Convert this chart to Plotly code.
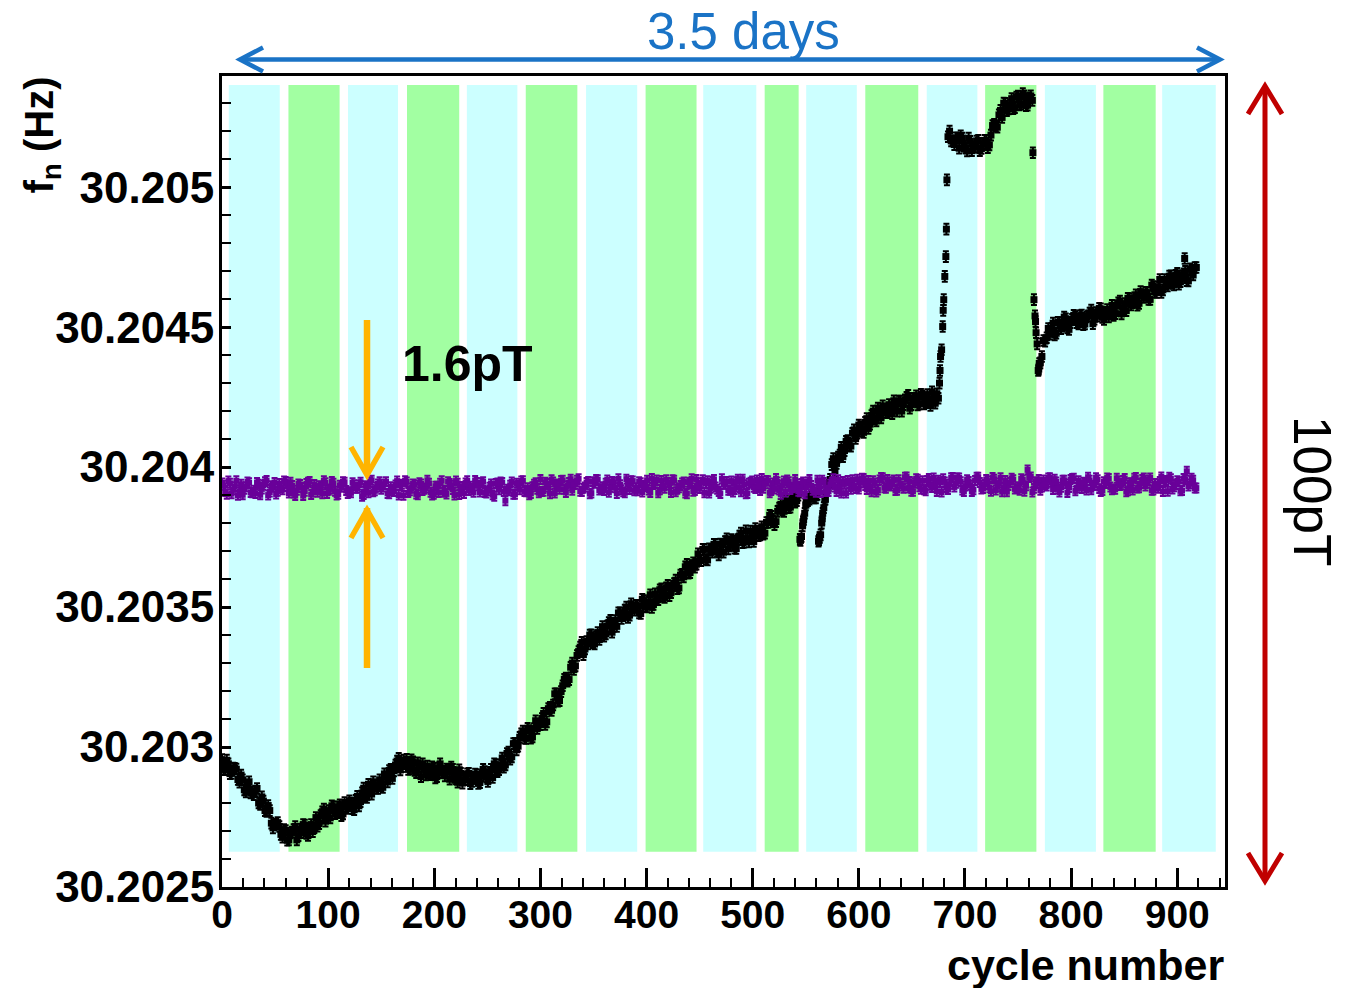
import plotly.graph_objects as go

# ---------------- data ----------------
F_BASE = 30.2          # Hz ; series values below are micro-Hz above this base
UHZ = 1e-6

cycles = list(range(0, 919, 3))                    # cycles 0, 3, ... 918
cycles_b = [c + 1.5 for c in range(0, 916, 3)]     # cycles 1.5, 4.5, ... 916.5

black_uhz = [
    2955, 2920, 2940, 2906, 2924, 2884, 2900, 2847, 2859, 2836,
    2830, 2852, 2795, 2807, 2770, 2773, 2711, 2724, 2716, 2678,
    2702, 2668, 2696, 2716, 2683, 2694, 2721, 2684, 2723, 2712,
    2717, 2755, 2778, 2756, 2747, 2786, 2769, 2794, 2761, 2787,
    2808, 2780, 2810, 2790, 2836, 2826, 2867, 2832, 2861, 2852,
    2862, 2904, 2875, 2920, 2915, 2950, 2918, 2953, 2956, 2922,
    2947, 2908, 2928, 2940, 2900, 2906, 2929, 2890, 2926, 2908,
    2897, 2920, 2928, 2891, 2874, 2906, 2883, 2904, 2869, 2893,
    2902, 2873, 2920, 2893, 2909, 2891, 2937, 2919, 2961, 2936,
    2982, 2965, 3013, 3003, 3047, 3032, 3067, 3032, 3066, 3066,
    3080, 3120, 3090, 3142, 3150, 3190, 3166, 3219, 3246, 3241,
    3300, 3290, 3341, 3374, 3350, 3368, 3401, 3368, 3409, 3398,
    3396, 3432, 3453, 3431, 3431, 3479, 3469, 3500, 3471, 3497,
    3506, 3479, 3528, 3501, 3518, 3499, 3547, 3526, 3565, 3534,
    3578, 3551, 3584, 3566, 3614, 3608, 3653, 3623, 3658, 3653,
    3666, 3706, 3670, 3708, 3696, 3724, 3686, 3723, 3734, 3708,
    3741, 3710, 3741, 3764, 3732, 3744, 3771, 3734, 3771, 3758,
    3760, 3802, 3828, 3806, 3805, 3854, 3847, 3880, 3855, 3887,
    3875, 3900, 3752, 3835, 3880, 3897, 3890, 3902, 3758, 3855,
    3932, 3956, 4030, 4013, 4043, 4037, 4092, 4079, 4121, 4102,
    4150, 4127, 4160, 4138, 4184, 4172, 4211, 4176, 4204, 4194,
    4200, 4237, 4200, 4236, 4223, 4249, 4210, 4246, 4255, 4226,
    4253, 4230, 4241, 4269, 4228, 4246, 4419, 4681, 5180, 5165,
    5152, 5175, 5183, 5146, 5129, 5164, 5143, 5165, 5130, 5155,
    5167, 5151, 5220, 5218, 5258, 5249, 5299, 5279, 5316, 5284,
    5325, 5297, 5326, 5293, 5326, 4598, 4440, 4372, 4452, 4462,
    4475, 4514, 4478, 4515, 4503, 4530, 4492, 4528, 4538, 4511,
    4543, 4511, 4540, 4561, 4528, 4539, 4565, 4527, 4563, 4548,
    4542, 4575, 4593, 4566, 4559, 4601, 4587, 4615, 4585, 4613,
    4624, 4599, 4650, 4625, 4643, 4624, 4670, 4647, 4683, 4651,
    4692, 4662, 4690, 4666, 4708, 4686, 4713,
]

black_uhz_b = [
    2921, 2953, 2905, 2925, 2921, 2874, 2883, 2840, 2876, 2841,
    2843, 2800, 2822, 2773, 2791, 2728, 2723, 2730, 2688, 2705,
    2667, 2693, 2705, 2668, 2707, 2723, 2691, 2710, 2698, 2748,
    2726, 2769, 2735, 2773, 2790, 2762, 2786, 2755, 2802, 2781,
    2800, 2776, 2824, 2805, 2853, 2820, 2844, 2876, 2853, 2883,
    2856, 2893, 2916, 2888, 2936, 2960, 2930, 2943, 2920, 2954,
    2916, 2944, 2894, 2920, 2932, 2901, 2924, 2894, 2940, 2913,
    2921, 2885, 2920, 2886, 2919, 2871, 2883, 2906, 2877, 2903,
    2870, 2898, 2912, 2877, 2920, 2940, 2912, 2936, 2928, 2977,
    2957, 3012, 2990, 3035, 3057, 3031, 3059, 3036, 3094, 3081,
    3102, 3081, 3137, 3131, 3190, 3164, 3198, 3242, 3235, 3285,
    3277, 3327, 3357, 3330, 3377, 3400, 3373, 3395, 3384, 3430,
    3404, 3445, 3410, 3452, 3479, 3459, 3489, 3463, 3512, 3489,
    3504, 3477, 3523, 3500, 3544, 3509, 3532, 3562, 3539, 3569,
    3541, 3575, 3596, 3568, 3617, 3644, 3621, 3648, 3642, 3690,
    3666, 3706, 3668, 3704, 3724, 3699, 3725, 3696, 3744, 3721,
    3736, 3709, 3754, 3730, 3772, 3733, 3752, 3780, 3755, 3787,
    3764, 3802, 3824, 3794, 3842, 3867, 3842, 3866, 3857, 3902,
    3880, 3742, 3805, 3875, 3885, 3905, 3890, 3740, 3815, 3885,
    3934, 4009, 3987, 4036, 4071, 4059, 4095, 4075, 4133, 4121,
    4144, 4124, 4173, 4153, 4200, 4165, 4188, 4219, 4195, 4223,
    4191, 4222, 4236, 4200, 4240, 4256, 4223, 4239, 4222, 4260,
    4226, 4259, 4220, 4246, 4262, 4345, 4560, 4850, 5200, 5165,
    5176, 5139, 5175, 5140, 5175, 5130, 5144, 5167, 5138, 5167,
    5141, 5186, 5224, 5214, 5274, 5300, 5273, 5293, 5280, 5322,
    5294, 5334, 5291, 5319, 5310, 4520, 4350, 4395, 4450, 4495,
    4496, 4472, 4517, 4494, 4536, 4497, 4516, 4542, 4516, 4541,
    4509, 4536, 4550, 4512, 4552, 4567, 4535, 4551, 4536, 4578,
    4548, 4587, 4547, 4584, 4603, 4579, 4605, 4578, 4627, 4606,
    4623, 4599, 4645, 4624, 4670, 4633, 4654, 4682, 4656, 4685,
    4653, 4684, 4699, 4665, 4703, 4713,
]

# extra black points in the fast transients
black_extra_cycles = [545, 547, 548, 550, 562, 563, 565, 566, 568,
                      676, 677, 679, 680, 682, 683, 764, 766, 767, 769, 770, 907]
black_extra_uhz = [3738, 3790, 3812, 3865, 3735, 3748, 3800, 3835, 3885,
                   4300, 4395, 4502, 4598, 4752, 5026, 5123, 4540, 4480, 4345, 4370, 4745]

purple_uhz = [
    3943, 3913, 3950, 3905, 3930, 3899, 3939, 3921, 3947, 3909,
    3917, 3945, 3901, 3936, 3952, 3911, 3928, 3904, 3941, 3919,
    3949, 3907, 3934, 3898, 3940, 3927, 3914, 3946, 3902, 3938,
    3910, 3932, 3951, 3906, 3922, 3942, 3900, 3935, 3948, 3916,
    3912, 3944, 3924, 3936, 3896, 3933, 3908, 3953, 3915, 3940,
    3921, 3939, 3906, 3930, 3913, 3950, 3934, 3899, 3947, 3915,
    3940, 3904, 3944, 3916, 3925, 3942, 3900, 3932, 3909, 3951,
    3916, 3948, 3935, 3900, 3942, 3922, 3906, 3951, 3932, 3910,
    3945, 3911, 3948, 3907, 3928, 3901, 3941, 3919, 3945, 3880,
    3915, 3947, 3903, 3934, 3950, 3913, 3926, 3906, 3939, 3921,
    3956, 3914, 3941, 3905, 3947, 3934, 3921, 3953, 3909, 3945,
    3917, 3939, 3958, 3913, 3929, 3949, 3907, 3942, 3955, 3923,
    3916, 3954, 3928, 3946, 3906, 3937, 3912, 3957, 3920, 3950,
    3926, 3948, 3911, 3935, 3918, 3959, 3943, 3908, 3952, 3924,
    3945, 3909, 3953, 3921, 3934, 3947, 3905, 3941, 3914, 3956,
    3923, 3955, 3942, 3907, 3949, 3929, 3913, 3958, 3939, 3917,
    3950, 3920, 3957, 3912, 3937, 3906, 3946, 3928, 3954, 3916,
    3924, 3952, 3908, 3943, 3959, 3918, 3935, 3911, 3948, 3926,
    3956, 3914, 3941, 3905, 3947, 3934, 3921, 3953, 3909, 3945,
    3917, 3939, 3958, 3913, 3929, 3949, 3907, 3942, 3955, 3923,
    3922, 3960, 3934, 3952, 3912, 3943, 3918, 3963, 3926, 3956,
    3932, 3954, 3917, 3941, 3924, 3965, 3949, 3914, 3958, 3930,
    3951, 3915, 3959, 3927, 3940, 3953, 3911, 3947, 3920, 3962,
    3929, 3961, 3948, 3913, 3955, 3935, 3919, 3964, 3945, 3923,
    3956, 3926, 3963, 3918, 3943, 3912, 3952, 3934, 3960, 3922,
    3930, 3958, 3914, 3990, 3965, 3924, 3941, 3917, 3954, 3932,
    3962, 3920, 3947, 3911, 3953, 3940, 3927, 3959, 3915, 3951,
    3923, 3945, 3964, 3919, 3935, 3955, 3913, 3948, 3961, 3929,
    3922, 3960, 3934, 3952, 3912, 3943, 3918, 3963, 3926, 3956,
    3932, 3954, 3917, 3941, 3924, 3965, 3949, 3914, 3958, 3930,
    3951, 3915, 3959, 3985, 3940, 3953, 3925,
]

purple_uhz_b = [
    3935, 3903, 3942, 3919, 3951, 3912, 3901, 3930, 3944, 3908,
    3906, 3939, 3922, 3948, 3900, 3933, 3945, 3914, 3926, 3950,
    3931, 3946, 3907, 3917, 3938, 3898, 3941, 3949, 3911, 3923,
    3933, 3905, 3944, 3917, 3949, 3914, 3903, 3928, 3946, 3906,
    3908, 3937, 3924, 3946, 3902, 3931, 3947, 3912, 3928, 3948,
    3929, 3948, 3905, 3919, 3936, 3900, 3939, 3951, 3909, 3925,
    3937, 3901, 3940, 3921, 3953, 3910, 3903, 3932, 3942, 3910,
    3904, 3941, 3920, 3950, 3902, 3931, 3943, 3916, 3924, 3952,
    3933, 3944, 3909, 3915, 3940, 3896, 3943, 3947, 3913, 3921,
    3935, 3903, 3942, 3919, 3951, 3912, 3901, 3930, 3944, 3908,
    3913, 3946, 3929, 3955, 3907, 3940, 3952, 3921, 3933, 3957,
    3938, 3953, 3914, 3924, 3945, 3905, 3948, 3956, 3918, 3930,
    3942, 3910, 3949, 3926, 3958, 3919, 3908, 3937, 3951, 3915,
    3915, 3944, 3931, 3953, 3909, 3938, 3954, 3919, 3935, 3955,
    3936, 3955, 3912, 3926, 3943, 3907, 3946, 3958, 3916, 3932,
    3944, 3908, 3951, 3924, 3956, 3921, 3906, 3939, 3949, 3917,
    3911, 3948, 3927, 3957, 3905, 3942, 3950, 3923, 3931, 3959,
    3940, 3951, 3916, 3922, 3947, 3903, 3950, 3954, 3920, 3928,
    3940, 3912, 3947, 3928, 3956, 3917, 3910, 3935, 3953, 3913,
    3913, 3946, 3929, 3955, 3907, 3940, 3952, 3921, 3933, 3957,
    3944, 3959, 3920, 3930, 3951, 3911, 3954, 3962, 3924, 3936,
    3948, 3916, 3955, 3932, 3964, 3925, 3914, 3943, 3957, 3921,
    3919, 3952, 3935, 3961, 3913, 3946, 3958, 3927, 3939, 3963,
    3942, 3961, 3918, 3932, 3949, 3913, 3952, 3964, 3922, 3938,
    3950, 3914, 3957, 3930, 3962, 3927, 3912, 3945, 3955, 3923,
    3917, 3954, 3933, 3963, 3911, 3948, 3956, 3929, 3937, 3961,
    3946, 3957, 3922, 3928, 3953, 3909, 3956, 3960, 3926, 3934,
    3946, 3918, 3953, 3934, 3962, 3923, 3916, 3941, 3959, 3919,
    3921, 3950, 3937, 3959, 3915, 3944, 3960, 3925, 3941, 3961,
    3942, 3961, 3918, 3932, 3949, 3913, 3952, 3964, 3922, 3938,
    3948, 3916, 3955, 3932, 3960, 3925,
]

ERR_BLACK_UHZ = 19
ERR_PURPLE_UHZ = 16

# alternating background periods (cycle numbers)
band_start = [6.4, 62.6, 118.7, 174.3, 230.7, 286.2, 343.0, 399.1, 453.4,
              511.3, 550.4, 606.1, 664.0, 719.0, 775.3, 830.4, 885.8]
band_end = [54.4, 110.8, 165.8, 223.5, 278.3, 334.8, 391.2, 447.1, 503.4,
            543.3, 598.1, 656.0, 711.7, 767.3, 823.4, 879.7, 936.3]
band_kind = ["c", "g"] * 8 + ["c"]
BAND_LOW, BAND_HIGH = 30.202626, 30.205365

x_ticks = [0, 100, 200, 300, 400, 500, 600, 700, 800, 900]
y_ticks = [30.2025, 30.203, 30.2035, 30.204, 30.2045, 30.205]
y_ticktext = ["30.2025", "30.203", "30.2035", "30.204", "30.2045", "30.205"]

# ---------------- figure ----------------
OFF = 8                 # page body margin in the browser
W, H = 1360 - OFF, 988 - OFF
L, R, T, B = 222, 1225, 76, 887   # plot area box in window pixels


def px(xp):
    return (xp - L) / (R - L)


def py(yp):
    return (B - yp) / (B - T)


FONT = "Liberation Sans, Arial, sans-serif"
BAND_COL = {"c": "#ccffff", "g": "#a2ffa2"}

fig = go.Figure()

shapes = []
for s, e, k in zip(band_start, band_end, band_kind):
    shapes.append(dict(type="rect", xref="x", yref="y", x0=s, x1=e,
                       y0=BAND_LOW, y1=BAND_HIGH, fillcolor=BAND_COL[k],
                       line=dict(width=0), layer="below"))

black_x = cycles + cycles_b + black_extra_cycles
black_y = [F_BASE + v * UHZ for v in black_uhz + black_uhz_b + black_extra_uhz]
purple_x = cycles + cycles_b
purple_y = [F_BASE + v * UHZ for v in purple_uhz + purple_uhz_b]

PURPLE = "#690099"
fig.add_trace(go.Scatter(
    x=black_x, y=black_y, mode="markers",
    marker=dict(symbol="square", size=7, color="black"),
    error_y=dict(type="constant", value=ERR_BLACK_UHZ * UHZ, thickness=2,
                 width=3, color="black"),
    hoverinfo="skip"))
fig.add_trace(go.Scatter(
    x=purple_x, y=purple_y, mode="markers",
    marker=dict(symbol="square", size=6, color=PURPLE),
    error_y=dict(type="constant", value=ERR_PURPLE_UHZ * UHZ, thickness=2,
                 width=3, color=PURPLE),
    hoverinfo="skip"))

# --- annotation arrows (paper coordinates from pixel positions) ---
BLUE = "#1a73c6"
RED = "#c00000"
ORANGE = "#ffb400"


def seg(x0, y0, x1, y1, color, width):
    shapes.append(dict(type="line", xref="paper", yref="paper",
                       x0=px(x0), y0=py(y0), x1=px(x1), y1=py(y1),
                       line=dict(color=color, width=width)))


def chevron(pts, color, width):
    path = "M " + " L ".join(f"{px(a):.5f},{py(b):.5f}" for a, b in pts)
    shapes.append(dict(type="path", xref="paper", yref="paper", path=path,
                       line=dict(color=color, width=width)))


# blue horizontal double arrow (3.5 days)
seg(243, 59.5, 1217, 59.5, BLUE, 4.5)
chevron([(263, 47.5), (240, 59.5), (263, 71.5)], BLUE, 4.5)
chevron([(1197, 47.5), (1220, 59.5), (1197, 71.5)], BLUE, 4.5)

# red vertical double arrow (100pT)
seg(1265, 90, 1265, 878, RED, 5)
chevron([(1248, 114), (1265, 86), (1282, 114)], RED, 5)
chevron([(1248, 853), (1265, 881), (1282, 853)], RED, 5)

# orange converging arrows (1.6pT)
seg(367, 320, 367, 470, ORANGE, 6.5)
chevron([(351, 447), (367, 475), (383, 447)], ORANGE, 5.5)
seg(367, 508, 367, 668, ORANGE, 6.5)
chevron([(351, 538), (367, 510), (383, 538)], ORANGE, 5.5)

annotations = [
    dict(text="3.5 days", x=px(743), y=py(32), xref="paper", yref="paper",
         showarrow=False, font=dict(family=FONT, size=51, color=BLUE),
         xanchor="center", yanchor="middle"),
    dict(text="100pT", x=px(1313), y=py(491), xref="paper", yref="paper",
         showarrow=False, textangle=90,
         font=dict(family=FONT, size=53, color="black"),
         xanchor="center", yanchor="middle"),
    dict(text="<b>1.6pT</b>", x=px(467), y=py(364), xref="paper", yref="paper",
         showarrow=False, font=dict(family=FONT, size=50, color="black"),
         xanchor="center", yanchor="middle"),
    dict(text="<b>f<sub>n</sub> (Hz)</b>", x=px(42), y=py(75), xref="paper",
         yref="paper", showarrow=False, textangle=-90,
         font=dict(family=FONT, size=40, color="black"),
         xanchor="center", yanchor="top"),
    dict(text="<b>cycle number</b>", x=px(1226), y=py(965), xref="paper",
         yref="paper", showarrow=False,
         font=dict(family=FONT, size=43, color="black"),
         xanchor="right", yanchor="middle"),
]

fig.update_layout(
    width=W, height=H,
    margin=dict(l=L - OFF, r=1360 - R, t=T - OFF, b=988 - B, pad=0),
    plot_bgcolor="white", paper_bgcolor="white",
    showlegend=False,
    shapes=shapes, annotations=annotations,
    xaxis=dict(range=[0, 945], tickmode="array", tickvals=x_ticks,
               ticks="inside", ticklen=19, tickwidth=2.5, tickcolor="black",
               showline=True, linewidth=3, linecolor="black", mirror=True,
               showgrid=False, zeroline=False,
               tickfont=dict(family=FONT, size=39, color="black", weight="bold"),
               ticklabelstandoff=-9,
               minor=dict(ticks="inside", ticklen=9, dtick=20, tick0=0,
                          tickwidth=2, tickcolor="black", showgrid=False)),
    yaxis=dict(range=[30.2025, 30.205397], tickmode="array", tickvals=y_ticks,
               ticktext=y_ticktext,
               ticks="inside", ticklen=9, tickwidth=2.5, tickcolor="black",
               showline=True, linewidth=3, linecolor="black", mirror=True,
               showgrid=False, zeroline=False,
               tickfont=dict(family=FONT, size=44, color="black", weight="bold"),
               ticklabelstandoff=-4,
               minor=dict(ticks="inside", ticklen=9, dtick=0.0001, tick0=30.2025,
                          tickwidth=2, tickcolor="black", showgrid=False)),
)

fig.write_html("out.html")
